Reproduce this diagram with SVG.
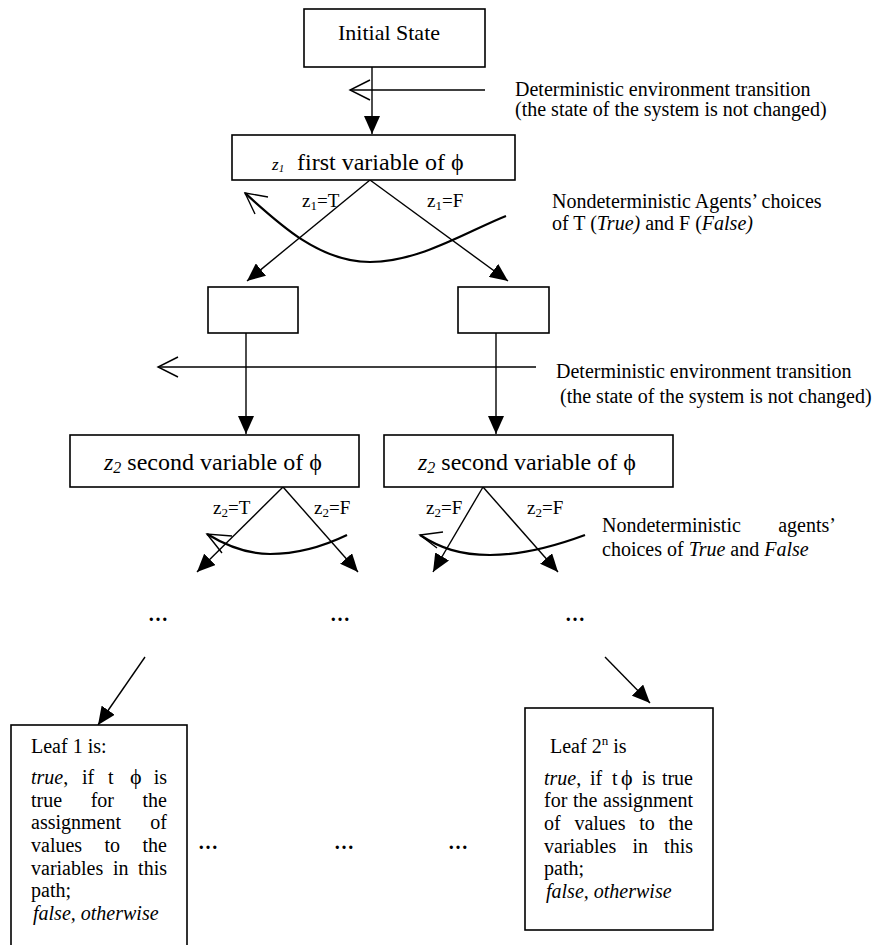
<svg xmlns="http://www.w3.org/2000/svg" width="879" height="945" viewBox="0 0 879 945">
<style>
text{font-family:"Liberation Serif","Times New Roman",serif;fill:#000;font-size:20px}
.box{fill:#fff;stroke:#000;stroke-width:1.6}
.ln{fill:none;stroke:#000;stroke-width:1.4}
.cv{fill:none;stroke:#000;stroke-width:2.2}
.it{font-style:italic}
.big{font-size:24px}
.title{font-size:22px}
.lbl{font-size:19px}
.dots{font-size:20px;font-weight:bold}
</style>
<defs>
<marker id="ah" markerUnits="userSpaceOnUse" markerWidth="18" markerHeight="16" refX="18" refY="8" orient="auto">
<path d="M0,0 L18,8 L0,16 z" fill="#000"/>
</marker>
</defs>
<rect width="879" height="945" fill="#fff"/>

<g id="connectors">
<line class="ln" x1="372" y1="67" x2="372" y2="134" marker-end="url(#ah)"/>
<line class="ln" x1="485" y1="90" x2="350" y2="90"/>
<polyline class="ln" points="370,80 350,90 370,100"/>
<line class="ln" x1="370" y1="180" x2="247" y2="281" marker-end="url(#ah)"/>
<line class="ln" x1="370" y1="180" x2="508" y2="281" marker-end="url(#ah)"/>
<path class="cv" d="M506,216 C470,230 420,262 370,262 C320,262 280,225 245,193"/>
<polyline class="ln" points="268,197 245,193 255,214"/>
<line class="ln" x1="246" y1="333" x2="246" y2="434" marker-end="url(#ah)"/>
<line class="ln" x1="496" y1="333" x2="496" y2="434" marker-end="url(#ah)"/>
<line class="ln" x1="536" y1="367" x2="158" y2="367"/>
<polyline class="ln" points="178,357 158,367 178,377"/>
<line class="ln" x1="283" y1="487" x2="197" y2="572" marker-end="url(#ah)"/>
<line class="ln" x1="283" y1="487" x2="358" y2="572" marker-end="url(#ah)"/>
<line class="ln" x1="483" y1="487" x2="433" y2="572" marker-end="url(#ah)"/>
<line class="ln" x1="483" y1="487" x2="558" y2="572" marker-end="url(#ah)"/>
<path class="cv" d="M347,535 C320,548 295,554 270,554 C245,554 225,545 207,534"/>
<polyline class="ln" points="232,536 207,534 222,553"/>
<path class="cv" d="M585,535 C550,548 520,555 490,555 C460,555 440,548 420,535"/>
<polyline class="ln" points="443,532 420,535 437,548"/>
<line class="ln" x1="145" y1="657" x2="98" y2="725" marker-end="url(#ah)"/>
<line class="ln" x1="605" y1="657" x2="650" y2="703" marker-end="url(#ah)"/>
</g>

<g id="labels">
<text x="515" y="96">Deterministic environment transition</text>
<text x="515" y="116">(the state of the system is not changed)</text>
<text x="552" y="208">Nondeterministic Agents’ choices</text>
<text x="552" y="230">of T (<tspan class="it">True)</tspan> and F (<tspan class="it">False)</tspan></text>
<text class="lbl" x="302" y="207">z<tspan font-size="13" dy="3">1</tspan><tspan dy="-3">=T</tspan></text>
<text class="lbl" x="427" y="207">z<tspan font-size="13" dy="3">1</tspan><tspan dy="-3">=F</tspan></text>
<text x="556" y="378">Deterministic environment transition</text>
<text x="560" y="403">(the state of the system is not changed)</text>
<text class="lbl" x="213" y="514">z<tspan font-size="13" dy="3">2</tspan><tspan dy="-3">=T</tspan></text>
<text class="lbl" x="314" y="514">z<tspan font-size="13" dy="3">2</tspan><tspan dy="-3">=F</tspan></text>
<text class="lbl" x="426" y="514">z<tspan font-size="13" dy="3">2</tspan><tspan dy="-3">=F</tspan></text>
<text class="lbl" x="527" y="514">z<tspan font-size="13" dy="3">2</tspan><tspan dy="-3">=F</tspan></text>
<text x="602" y="532">Nondeterministic</text>
<text x="836" y="532" text-anchor="end">agents’</text>
<text x="602" y="556">choices of <tspan class="it">True</tspan> and <tspan class="it">False</tspan></text>
<text class="dots" x="148" y="621">…</text>
<text class="dots" x="330" y="621">…</text>
<text class="dots" x="565" y="621">…</text>
<text class="dots" x="198" y="849">…</text>
<text class="dots" x="334" y="849">…</text>
<text class="dots" x="448" y="849">…</text>
</g>

<g id="initial">
<rect class="box" x="304" y="9" width="181" height="58"/>
<text class="title" x="389" y="40" text-anchor="middle">Initial State</text>
</g>

<g id="z1">
<rect class="box" x="232" y="135" width="283" height="45"/>
<text x="272" y="170"><tspan class="it" font-size="17">z</tspan><tspan class="it" font-size="11" dy="2">1</tspan><tspan class="big" x="297" y="170">first variable of ϕ</tspan></text>
</g>

<g id="after-T">
<rect class="box" x="208" y="287" width="90" height="46"/>
</g>
<g id="after-F">
<rect class="box" x="458" y="287" width="91" height="46"/>
</g>

<g id="z2-left">
<rect class="box" x="70" y="435" width="289" height="52"/>
<text class="big" x="104" y="470"><tspan class="it">z</tspan><tspan font-size="16" class="it" dy="3">2</tspan><tspan dy="-3"> second variable of ϕ</tspan></text>
</g>

<g id="z2-right">
<rect class="box" x="384" y="435" width="289" height="52"/>
<text class="big" x="418" y="470"><tspan class="it">z</tspan><tspan font-size="16" class="it" dy="3">2</tspan><tspan dy="-3"> second variable of ϕ</tspan></text>
</g>

<g id="leaf1">
<rect class="box" x="11" y="725" width="176" height="240"/>
<text x="31" y="753">Leaf 1 is:</text>
<text y="784"><tspan x="31" class="it">true</tspan>,<tspan x="82">if</tspan><tspan x="108">t</tspan><tspan x="130" font-size="22">ϕ</tspan></text>
<text x="167" y="784" text-anchor="end">is</text>
<text y="807"><tspan x="31">true</tspan><tspan x="90.7">for</tspan></text>
<text x="167" y="807" text-anchor="end">the</text>
<text x="31" y="829">assignment</text>
<text x="167" y="829" text-anchor="end">of</text>
<text y="852"><tspan x="31">values</tspan><tspan x="104.5">to</tspan></text>
<text x="167" y="852" text-anchor="end">the</text>
<text y="875"><tspan x="31">variables</tspan><tspan x="112.9">in</tspan></text>
<text x="167" y="875" text-anchor="end">this</text>
<text x="31" y="897">path;</text>
<text x="33" y="920" class="it">false, otherwise</text>
</g>

<g id="leaf2n">
<rect class="box" x="525" y="708" width="188" height="222"/>
<text x="550" y="753">Leaf 2<tspan font-size="13" dy="-8">n</tspan><tspan dy="8"> is</tspan></text>
<text y="785"><tspan x="544" class="it">true</tspan>,<tspan x="590">if</tspan><tspan x="612">t</tspan><tspan x="621" font-size="22">ϕ</tspan><tspan x="642">is</tspan></text>
<text x="693" y="785" text-anchor="end">true</text>
<text y="807"><tspan x="544">for</tspan><tspan x="573">the</tspan></text>
<text x="693" y="807" text-anchor="end">assignment</text>
<text y="830"><tspan x="544">of</tspan><tspan x="574.4">values</tspan><tspan x="639.2">to</tspan></text>
<text x="693" y="830" text-anchor="end">the</text>
<text y="853"><tspan x="544">variables</tspan><tspan x="632.4">in</tspan></text>
<text x="693" y="853" text-anchor="end">this</text>
<text x="544" y="875">path;</text>
<text x="546" y="898" class="it">false, otherwise</text>
</g>
</svg>
